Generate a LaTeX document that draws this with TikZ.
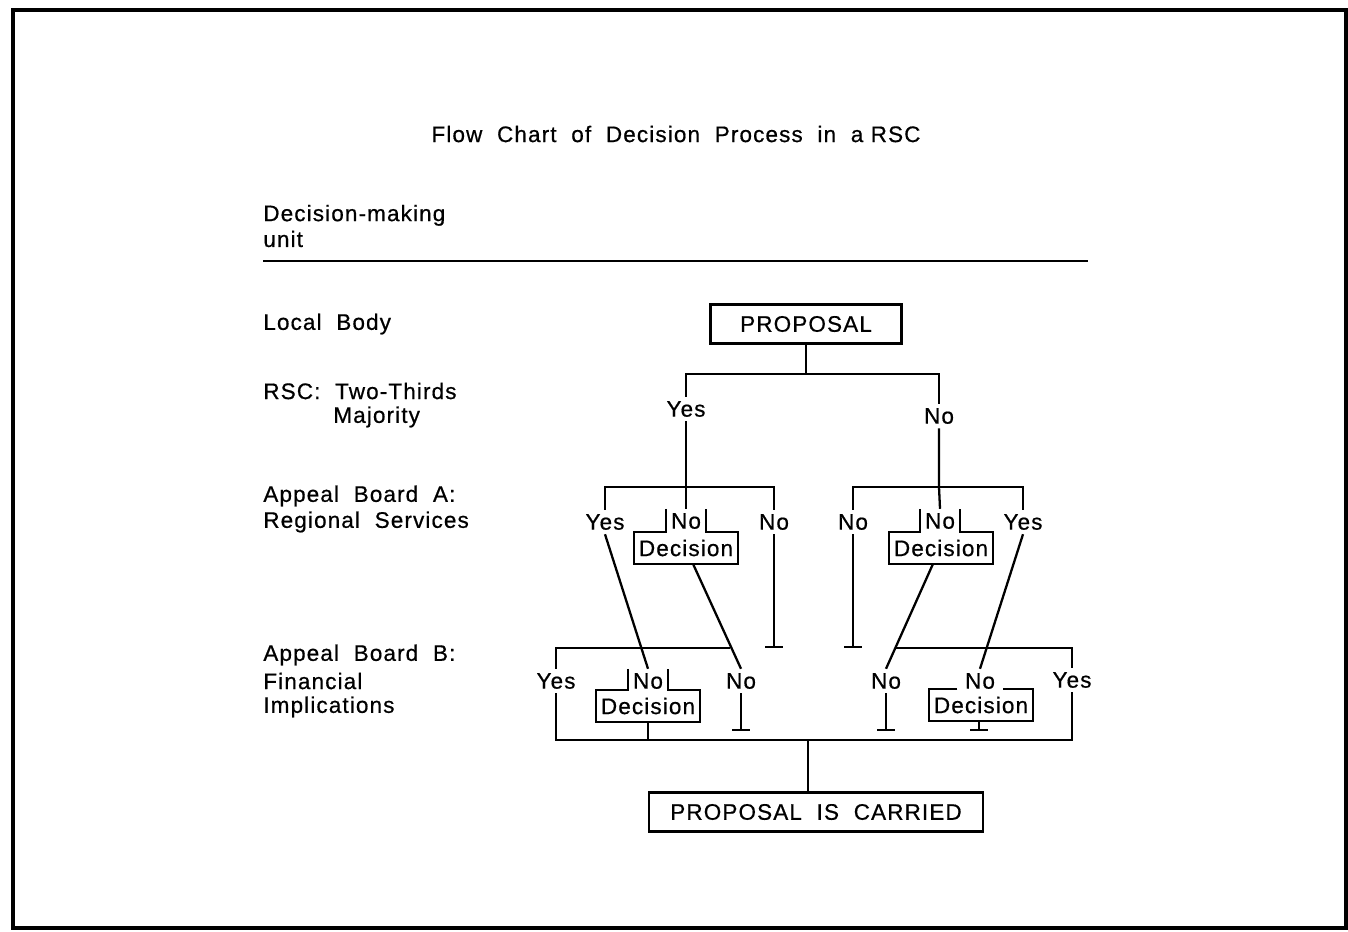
\documentclass[tikz,border=0pt]{standalone}
\usepackage{fontspec}
\setmainfont[LetterSpace=5,FakeBold=0.6]{Liberation Sans}
\usetikzlibrary{calc,arrows.meta}
\begin{document}
\begin{tikzpicture}[x=0.02cm,y=-0.02cm,
  every node/.style={font=\fontsize{12.8}{14.7}\selectfont},
  ln/.style={line width=1.3pt},
  lbl/.style={inner xsep=1pt,inner ysep=2.5pt,outer sep=0pt},
  side/.style={anchor=west,inner sep=0pt,align=left},
  bigbox/.style={draw,line width=1.3pt,minimum height=0.78cm},
  decbox/.style={minimum width=2.08cm,minimum height=0.62cm,inner sep=0pt},
  tab/.style={inner xsep=3pt,inner ysep=2.5pt,outer sep=0pt},
  tbar/.style={ln,-{Bar[width=10pt,line width=1.3pt]}}]
\useasboundingbox (0,0) rectangle (1348,931);
\draw[line width=1.8pt] (13,10) rectangle (1346,928);
% title and rule
\node (title) at (676,134) {Flow\ \ Chart\ \ of\ \ Decision\ \ Process\ \ in\ \ a RSC};
\node[side] (dmu) at (263,226) {Decision-making\\unit};
\coordinate (r1) at (263,261);
\coordinate (r2) at (1088,261);
\draw[ln] (r1) -- (r2);
\node[side] (lb) at (263,324) {Local\ \ Body};
\node[side] (rsc) at (263,391) {RSC:\ \ Two-Thirds};
\node[side] (maj) at (333,417) {Majority};
\node[side] (abA) at (263,496) {Appeal\ \ Board\ \ A:};
\node[side] (abA2) at (263,522) {Regional\ \ Services};
\node[side] (abB) at (263,655) {Appeal\ \ Board\ \ B:};
\node[side] (abB2) at (263,681) {Financial};
\node[side] (abB3) at (263,707) {Implications};
% top
\node[bigbox,minimum width=3.82cm] (prop) at (806,324) {PROPOSAL};
\coordinate (j0) at (806,374);
\node[lbl] (y1) at (686,409) {Yes};
\node[lbl] (n1) at (939,416) {No};
\draw[ln] (prop.south) -- (j0);
\draw[ln] (y1.north) |- (j0) -| (n1.north);
% level A left
\coordinate (jA) at (686,487);
\node[lbl] (aY) at (605,522) {Yes};
\node[lbl] (aN) at (774,522) {No};
\node[tab] (aNDn) at (686,521) {No};
\node[decbox] (aND) at (686,548) {Decision};
\draw[ln] (y1.south) -- (jA) -- (aNDn.north);
\draw[ln] (aY.north) |- (jA) -| (aN.north);
\draw[ln] (aNDn.north west) |- (aND.north west) -- (aND.south west) -- (aND.south east) -- (aND.north east) -| (aNDn.north east);
\coordinate (aNt) at (774,648);
\draw[tbar] (aN.south) -- (aNt);
% level A right
\coordinate (jA2) at (939,487);
\node[lbl] (cN) at (853,522) {No};
\node[lbl] (cY) at (1023,522) {Yes};
\node[tab] (cNDn) at (940,521) {No};
\node[decbox] (cND) at (941,548) {Decision};
\draw[ln] (n1.south) -- (jA2) -- (cNDn.north);
\draw[ln] (cN.north) |- (jA2) -| (cY.north);
\draw[ln] (cNDn.north west) |- (cND.north west) -- (cND.south west) -- (cND.south east) -- (cND.north east) -| (cNDn.north east);
\coordinate (cNt) at (853,648);
\draw[tbar] (cN.south) -- (cNt);
% level B left
\node[lbl] (bY) at (556,681) {Yes};
\node[tab] (bNDn) at (648,681) {No};
\node[decbox] (bND) at (648,706) {Decision};
\node[lbl] (bN) at (741,681) {No};
\draw[ln] (bNDn.north west) |- (bND.north west) -- (bND.south west) -- (bND.south east) -- (bND.north east) -| (bNDn.north east);
\draw[ln] (aY.south) -- (bNDn.north);
\draw[ln] ($(aND.south)+(7,0)$) -- (bN.north);
\coordinate (bJ) at (730,648);
\draw[ln] (bY.north) |- (bJ);
\coordinate (bNt) at (741,731);
\draw[tbar] (bN.south) -- (bNt);
% level B right
\node[lbl] (dN) at (886,681) {No};
\node[lbl] (dNDn) at (980,681) {No};
\node[decbox] (dND) at (981,705) {Decision};
\node[lbl] (dY) at (1072,680) {Yes};
\draw[ln] ($(dNDn.west |- dND.north)+(-6,0)$) -- (dND.north west) -- (dND.south west) -- (dND.south east) -- (dND.north east) -- ($(dNDn.east |- dND.north)+(6,0)$);
\draw[ln] ($(cND.south)+(-8,0)$) -- (dN.north);
\draw[ln] (cY.south) -- (dNDn.north);
\coordinate (dJ) at (895,648);
\draw[ln] (dJ) -| (dY.north);
\coordinate (dNt) at (886,731);
\draw[tbar] (dN.south) -- (dNt);
\coordinate (dNDt) at (979,731);
\draw[tbar] ($(dND.south)+(-2,0)$) -- (dNDt);
% bottom
\coordinate (bot) at (808,740);
\node[bigbox,minimum width=6.68cm] (car) at (816,812) {PROPOSAL\ \ IS\ \ CARRIED};
\draw[ln] (bY.south) |- (bot) -| (dY.south);
\draw[ln] (bND.south) -- (bND.south |- bot);
\draw[ln] (bot) -- (bot |- car.north);
\end{tikzpicture}
\end{document}
